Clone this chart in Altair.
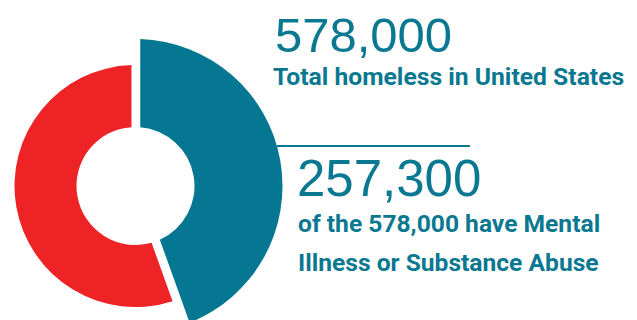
import altair as alt
import pandas as pd

categories = ["Mental Illness or Substance Abuse", "Other homeless"]
values = [257300, 320700]
stack_order = [0, 1]

big_labels = ["578,000", "257,300"]
caption_top = "Total homeless in United States"
caption_bottom = ["of the 578,000 have Mental", "Illness or Substance Abuse"]

BLUE = "#057792"
RED = "#ee2326"
TEAL = "#0a7891"

COND = "Roboto"

df = pd.DataFrame({"category": categories, "value": values, "order": stack_order})

color_scale = alt.Scale(domain=categories, range=[BLUE, RED])

base = alt.Chart(df).encode(
    theta=alt.Theta("value:Q", stack=True),
    order=alt.Order("order:Q"),
    color=alt.Color("category:N", scale=color_scale, legend=None),
)

red_arc = base.mark_arc(innerRadius=59, outerRadius=121, padAngle=0.06, x=135.5, y=186).encode(
    opacity=alt.condition(alt.datum.category == categories[1], alt.value(1), alt.value(0))
)
blue_arc = base.mark_arc(innerRadius=59, outerRadius=147, padAngle=0.06, x=135.5, y=186).encode(
    opacity=alt.condition(alt.datum.category == categories[0], alt.value(1), alt.value(0))
)

def text_layer(txt, x, y, size, font, weight="normal"):
    kw = dict(align="left", baseline="alphabetic", x=x, y=y, fontSize=size, font=font,
              fontWeight=weight, color=TEAL)
    return alt.Chart(pd.DataFrame({"t": [txt]})).mark_text(**kw).encode(text="t:N")

t1 = text_layer(big_labels[0], 275, 52, 49, "Liberation Sans")
t2 = text_layer(caption_top, 273, 85, 24.7, COND, "bold")
t3 = text_layer(big_labels[1], 297, 196, 51, "Liberation Sans")
t4 = text_layer(caption_bottom[0], 298, 232, 24.6, COND, "bold")
t5 = text_layer(caption_bottom[1], 298, 271, 24.6, COND, "bold")

rule = alt.Chart(pd.DataFrame({"a": [0]})).mark_rule(color=TEAL, strokeWidth=2).encode(
    x=alt.value(277), x2=alt.value(470), y=alt.value(146)
)

chart = alt.layer(blue_arc, red_arc, rule, t1, t2, t3, t4, t5).properties(
    width=637, height=320, autosize=alt.AutoSizeParams(type="none"), padding=0,
    background="white"
).configure_view(stroke=None)

chart.save("out.html", embed_options={"renderer": "svg", "actions": False})
